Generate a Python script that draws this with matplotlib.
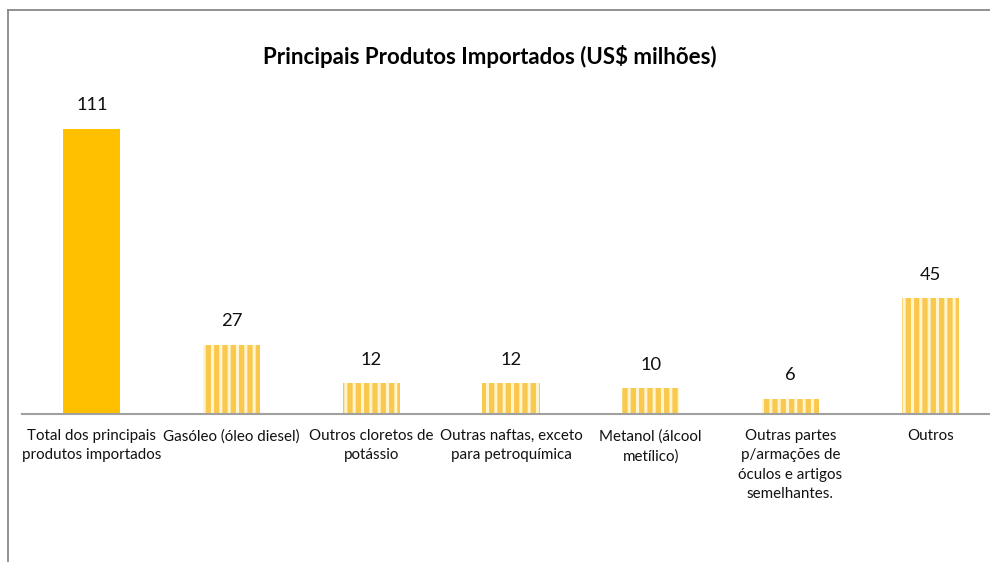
import matplotlib
matplotlib.use("Agg")
import matplotlib.pyplot as plt
from matplotlib.lines import Line2D
import numpy as np

# Chart data
categories = [
    "Total dos principais\nprodutos importados",
    "Gasóleo (óleo diesel)",
    "Outros cloretos de\npotássio",
    "Outras naftas, exceto\npara petroquímica",
    "Metanol (álcool\nmetílico)",
    "Outras partes\np/armações de\nóculos e artigos\nsemelhantes.",
    "Outros",
]
values = [111, 27, 12, 12, 10, 6, 45]
title = "Principais Produtos Importados (US$ milhões)"

plt.rcParams['font.family'] = ['Lato', 'DejaVu Sans']
plt.rcParams['hatch.linewidth'] = 2.2

W, H = 990, 562
fig = plt.figure(figsize=(W / 100, H / 100), dpi=100)

# axes placed so the baseline sits near y=414 px and spans 22 px -> 1000 px
ax = fig.add_axes([22 / W, (H - 414) / H, 978 / W, 360 / H])
x = np.arange(len(categories))

for i, v in enumerate(values):
    if i == 0:
        ax.bar(x[i], v, width=0.41, color="#FFC000", linewidth=0)
    else:
        ax.bar(x[i], v, width=0.41, color="#F9C84E", edgecolor="#FFF4CC",
               linewidth=0, hatch="||")
    ax.text(x[i], v + 6, str(v), ha="center", va="bottom", fontsize=13.2,
            color="#111111")

ax.set_xlim(-0.5, len(categories) - 0.5)
ax.set_ylim(0, 140)
ax.set_xticks(x)
ax.set_xticklabels(categories, fontsize=10.9, color="#111111", linespacing=1.47)
ax.tick_params(axis="x", length=0, pad=11)
ax.set_yticks([])
for s in ["top", "right", "left"]:
    ax.spines[s].set_visible(False)
ax.spines["bottom"].set_color("#A0A0A0")
ax.spines["bottom"].set_linewidth(1.5)

fig.text(490 / W, 1 - 57 / H, title, ha="center", va="center",
         fontsize=16, fontweight="bold", color="#000000")

# outer chart frame (left and top edges visible)
fig.add_artist(Line2D([7.5 / W, 7.5 / W], [0, 1 - 9.5 / H], color="#888888",
                      linewidth=1.3, transform=fig.transFigure))
fig.add_artist(Line2D([7.5 / W, 1], [1 - 9.5 / H, 1 - 9.5 / H], color="#888888",
                      linewidth=1.3, transform=fig.transFigure))

fig.savefig("out.png", dpi=100)
